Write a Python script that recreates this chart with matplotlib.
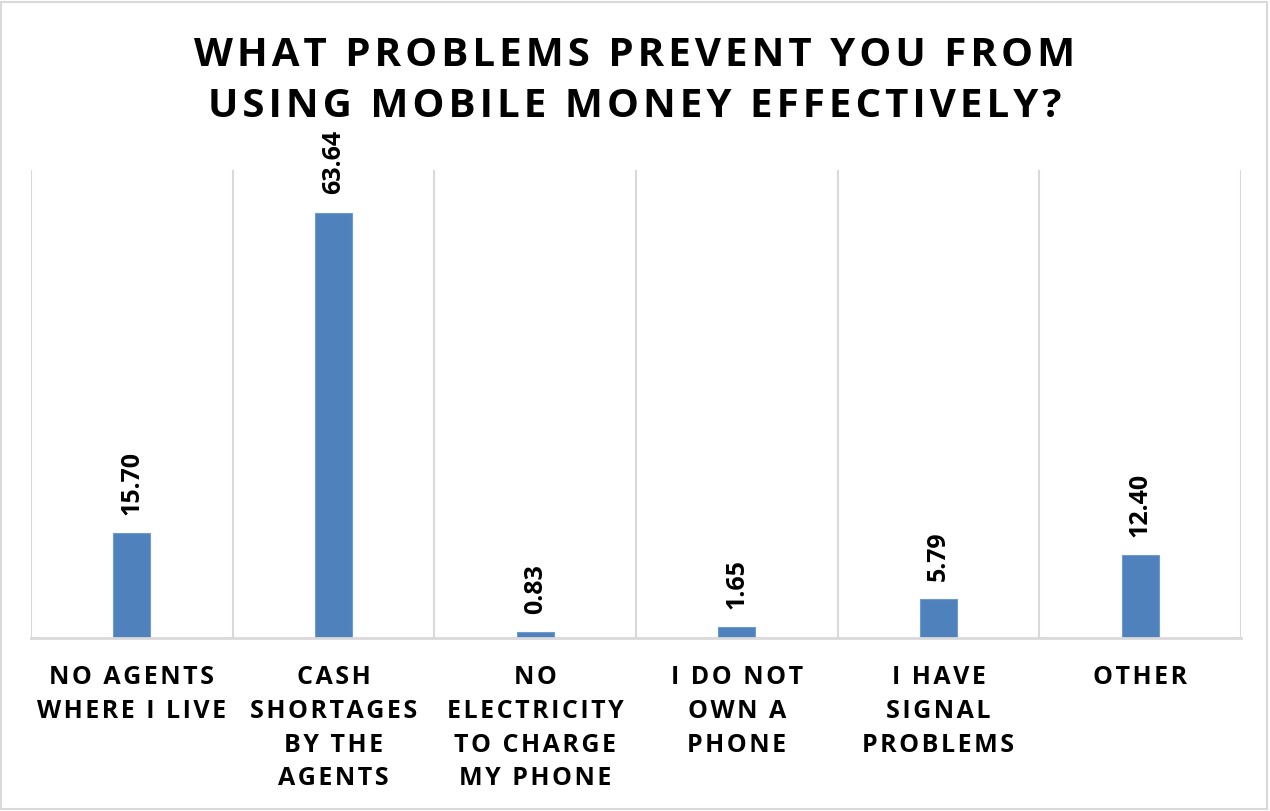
import numpy as np
import matplotlib.pyplot as plt

categories = ['NO AGENTS\nWHERE I LIVE', 'CASH\nSHORTAGES\nBY THE\nAGENTS',
              'NO\nELECTRICITY\nTO CHARGE\nMY PHONE', 'I DO NOT\nOWN A\nPHONE',
              'I HAVE\nSIGNAL\nPROBLEMS', 'OTHER']
values = [15.70, 63.64, 0.83, 1.65, 5.79, 12.40]
title = 'WHAT PROBLEMS PREVENT YOU FROM\nUSING MOBILE MONEY EFFECTIVELY?'

plt.rcParams['font.family'] = ['Open Sans', 'DejaVu Sans']


def spaced(s, gap='\u200a'):
    # widen the tracking by putting a hair space between letters
    return '\n'.join(gap.join(line) for line in s.split('\n'))


fig = plt.figure(figsize=(12.7, 8.11), dpi=100)
ax = fig.add_axes([31 / 1270, 1 - 638 / 811, 1210 / 1270, 468 / 811])

x = np.arange(len(values))
ax.bar(x, values, width=0.185, color='#4F81BD', edgecolor='#6F9AD0', linewidth=0.8, zorder=2)

for xi, v in zip(x, values):
    ax.annotate(f'{v:.2f}', (xi, v), xytext=(0, 13), textcoords='offset points',
                rotation=90, ha='center', va='bottom', fontsize=18, fontweight='bold')

ax.set_xlim(-0.5, len(values) - 0.5)
ax.set_ylim(0, 70)
ax.set_yticks([])
ax.set_xticks(x)
ax.set_xticklabels([spaced(c) for c in categories], fontsize=18, fontweight='bold',
                   linespacing=1.46)
ax.tick_params(axis='x', length=0, pad=19.5)

# separators between categories
for b in np.arange(-0.5, len(values), 1.0):
    ax.axvline(b, color='#D9D9D9', linewidth=1.5, zorder=1)

for side in ['top', 'right', 'left']:
    ax.spines[side].set_visible(False)
ax.spines['bottom'].set_color('#D9D9D9')
ax.spines['bottom'].set_linewidth(2)

fig.text(0.5, 1 - 81 / 811, spaced(title), ha='center', va='center',
         fontsize=29, fontweight='bold', linespacing=1.38)

# outer frame
fig.patches.append(plt.Rectangle((0.001, 0.002), 0.997, 0.996, transform=fig.transFigure,
                                 fill=False, edgecolor='#D9D9D9', linewidth=1.5))

fig.savefig('out.png', dpi=100)
